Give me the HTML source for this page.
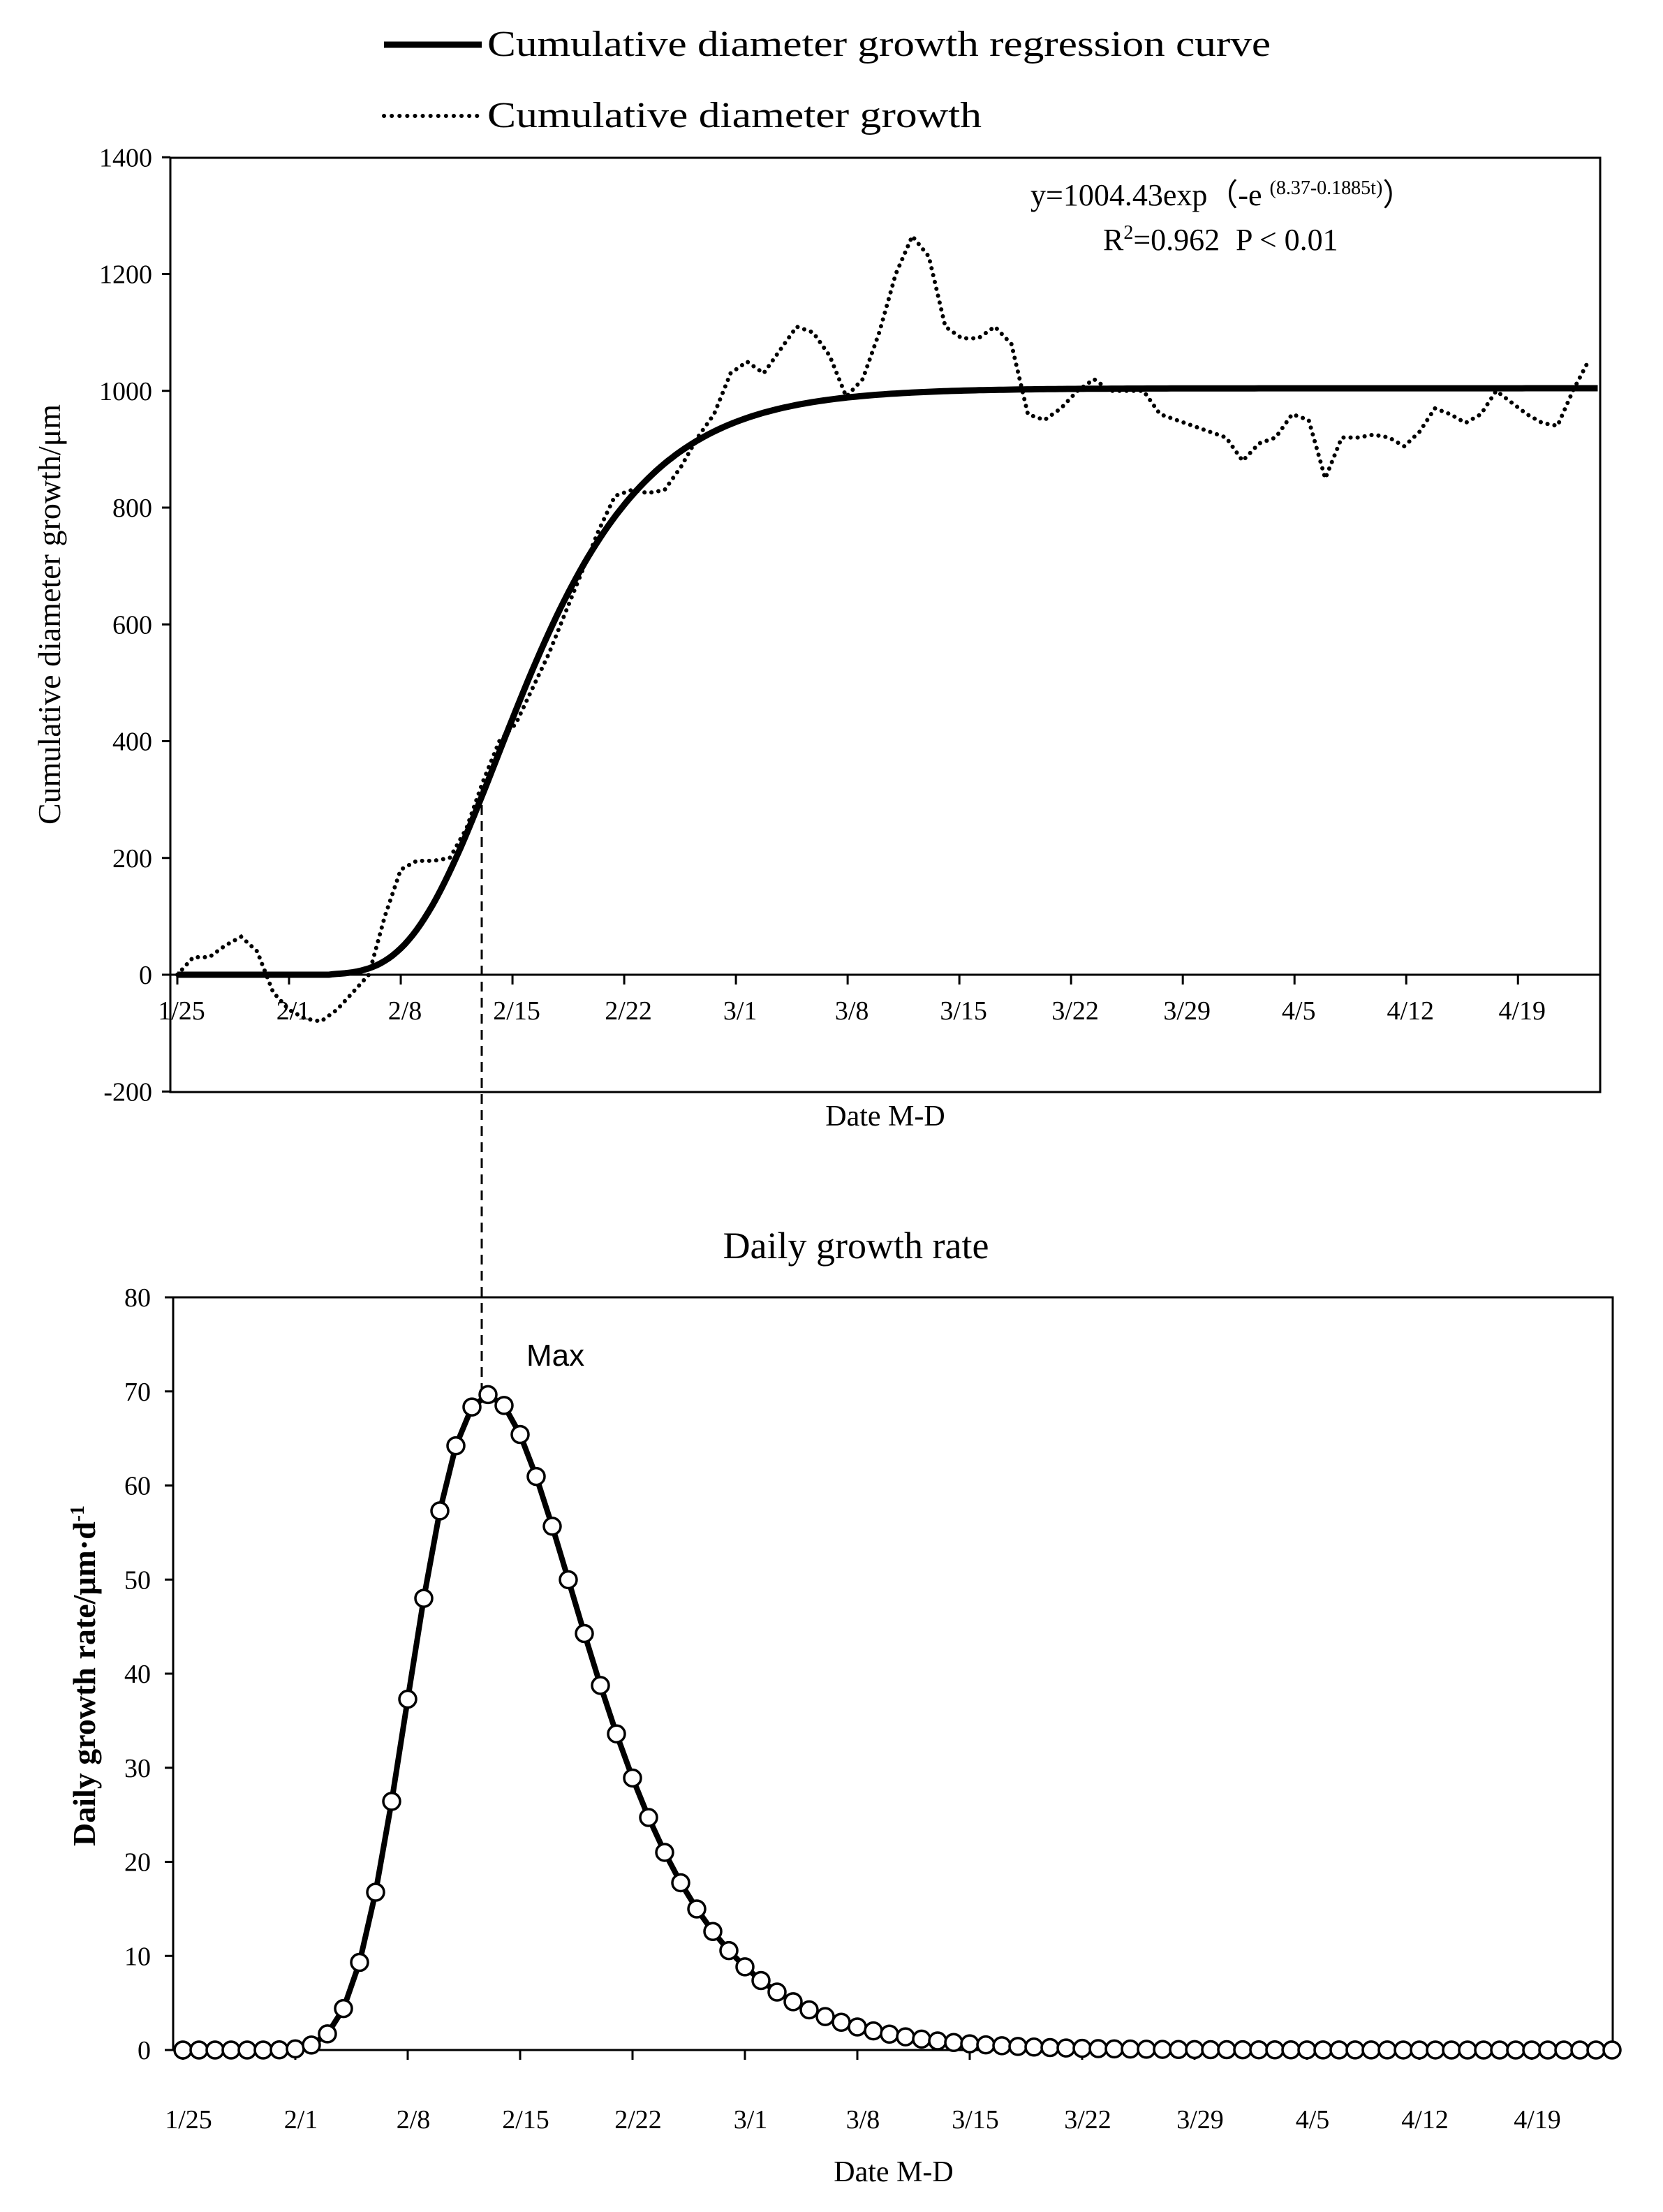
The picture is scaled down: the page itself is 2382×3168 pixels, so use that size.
<!DOCTYPE html>
<html><head><meta charset="utf-8"><style>
html,body{margin:0;padding:0;background:#fff}
svg{display:block}
text{font-family:"Liberation Serif",serif;fill:#000}
</style></head><body>
<svg id="s" width="2382" height="3168" viewBox="0 0 2382 3168" xmlns="http://www.w3.org/2000/svg">
<line x1="550" y1="64" x2="690" y2="64" stroke="#000" stroke-width="9"/>
<text x="698" y="80" font-size="52" textLength="1122" lengthAdjust="spacingAndGlyphs">Cumulative diameter growth regression curve</text>
<line x1="550" y1="166" x2="690" y2="166" stroke="#000" stroke-width="6" stroke-dasharray="0.1,11" stroke-linecap="round"/>
<text x="698" y="182" font-size="52" textLength="708" lengthAdjust="spacingAndGlyphs">Cumulative diameter growth</text>
<rect x="244" y="226" width="2048" height="1338" fill="none" stroke="#000" stroke-width="3"/>
<line x1="244" y1="1396" x2="2292" y2="1396" stroke="#000" stroke-width="3"/>
<g id="topticks"></g>
<text x="1476" y="294" font-size="44">y=1004.43exp（-e <tspan font-size="28" dy="-16">(8.37-0.1885t)</tspan><tspan dy="16">）</tspan></text>
<text x="1580" y="358" font-size="44">R<tspan font-size="28" dy="-16">2</tspan><tspan dy="16">=0.962</tspan></text>
<text x="1770" y="358" font-size="44">P &lt; 0.01</text>
<text x="1268" y="1612" font-size="42" text-anchor="middle">Date M-D</text>
<text transform="translate(86,880) rotate(-90)" font-size="46" text-anchor="middle">Cumulative diameter growth/μm</text>
<path id="obs" fill="none" stroke="#000" stroke-width="6" stroke-dasharray="0.1,10" stroke-linecap="round"/>
<path id="fit" fill="none" stroke="#000" stroke-width="9"/>
<line x1="690" y1="1130" x2="690" y2="2000" stroke="#000" stroke-width="3" stroke-dasharray="14,9"/>
<text x="1226" y="1802" font-size="54" text-anchor="middle">Daily growth rate</text>
<rect x="248" y="1858" width="2062" height="1078" fill="none" stroke="#000" stroke-width="3"/>
<g id="botticks"></g>
<text x="754" y="1956" font-size="44" style="font-family:'Liberation Sans',sans-serif">Max</text>
<text x="1280" y="3124" font-size="42" text-anchor="middle">Date M-D</text>
<text transform="translate(136,2400) rotate(-90)" font-size="46" text-anchor="middle" font-weight="bold">Daily growth rate/μm·d<tspan font-size="28" dy="-16">-1</tspan></text>
<path id="rate" fill="none" stroke="#000" stroke-width="8"/>
<g id="dots"></g>
</svg>
<script>
var NS="http://www.w3.org/2000/svg";
function el(t,a,p,txt){var e=document.createElementNS(NS,t);for(var k in a)e.setAttribute(k,a[k]);if(txt!=null)e.textContent=txt;document.getElementById(p).appendChild(e);return e;}
var X=function(d){return 254+d*22.86}, Y=function(v){return 1396-v*0.83625};
var X2=function(d){return 262+d*23.0}, Y2=function(v){return 2936-v*13.475};
var labs=["1/25","2/1","2/8","2/15","2/22","3/1","3/8","3/15","3/22","3/29","4/5","4/12","4/19"];
for(var i=0;i<13;i++){
 el("line",{x1:X(i*7),y1:1396,x2:X(i*7),y2:1410,stroke:"#000","stroke-width":3},"topticks");
 el("text",{x:X(i*7)+6,y:1460,"font-size":38,"text-anchor":"middle"},"topticks",labs[i]);
 el("line",{x1:X2(i*7),y1:2936,x2:X2(i*7),y2:2950,stroke:"#000","stroke-width":3},"botticks");
 el("text",{x:X2(i*7)+8,y:3048,"font-size":38,"text-anchor":"middle"},"botticks",labs[i]);
}
for(var v=-200;v<=1400;v+=200){
 el("line",{x1:232,y1:Y(v),x2:244,y2:Y(v),stroke:"#000","stroke-width":3},"topticks");
 el("text",{x:218,y:Y(v)+13,"font-size":38,"text-anchor":"end"},"topticks",v);
}
for(var v=0;v<=80;v+=10){
 el("line",{x1:236,y1:Y2(v),x2:248,y2:Y2(v),stroke:"#000","stroke-width":3},"botticks");
 el("text",{x:216,y:Y2(v)+13,"font-size":38,"text-anchor":"end"},"botticks",v);
}
var obs=[0,30,30,50,65,40,-30,-60,-75,-80,-60,-30,0,100,180,195,195,200,250,330,400,430,490,550,620,690,760,820,830,825,830,870,920,960,1030,1050,1030,1070,1110,1100,1060,990,1020,1100,1200,1265,1230,1110,1090,1090,1110,1080,960,950,970,1000,1020,1000,1000,1000,960,950,940,930,920,880,910,920,960,950,850,920,920,925,920,905,930,970,960,945,960,1000,980,960,945,940,1000,1050];
var p="";
function xo(i){var a=72+57*0.035;if(i<=72)return i+Math.max(0,i-15)*0.035;return a+(i-72)*(88.4-a)/15;}
for(var i=0;i<obs.length;i++){p+=(i?"L":"M")+X(xo(i)).toFixed(1)+","+Y(obs[i]).toFixed(1);}
document.getElementById("obs").setAttribute("d",p);
function G(d){var t=d+24.4;return 1004.43*Math.exp(-Math.exp(8.37-0.1885*t));}
function R(d){var t=d+25.4;var e=Math.exp(8.37-0.1885*t);return 1004.43*0.1885*e*Math.exp(-e);}
p="";
for(var d=0;d<=89;d+=0.25){var g=G(d);if(g<1)g=0;p+=(d?"L":"M")+X(d).toFixed(1)+","+Y(g).toFixed(1);}
document.getElementById("fit").setAttribute("d",p);
p="";
for(var d=0;d<=89;d++){p+=(d?"L":"M")+X2(d).toFixed(1)+","+Y2(R(d)).toFixed(1);}
document.getElementById("rate").setAttribute("d",p);
for(var d=0;d<=89;d++){el("circle",{cx:X2(d),cy:Y2(R(d)),r:12,fill:"#fff",stroke:"#000","stroke-width":3.5},"dots");}
</script>
</body></html>
